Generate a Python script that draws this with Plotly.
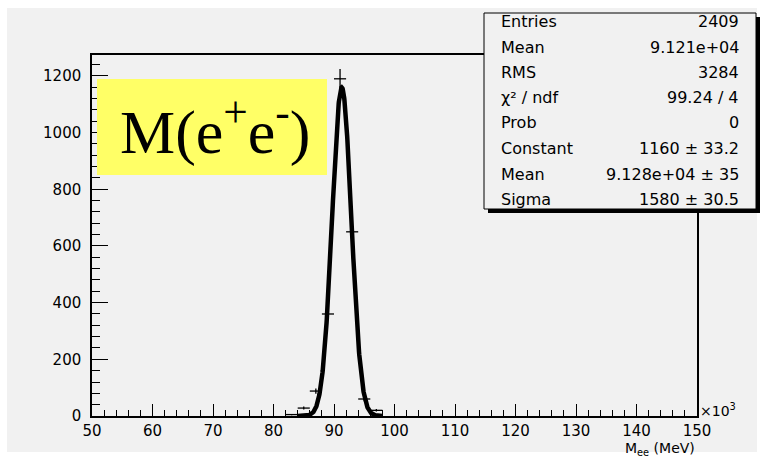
import numpy as np
import plotly.graph_objects as go

# ---- data ----
bin_centers = [83, 85, 87, 89, 91, 93, 95, 97]
counts = [5, 28, 88, 360, 1190, 650, 60, 20]
bin_half_width = [1, 1, 1, 1, 1, 1, 1, 1]

fit_constant = 1160.0
fit_mean = 91.28
fit_sigma = 1.58
fit_range = [84.0, 98.0]

stat_labels = ["Entries", "Mean", "RMS", "χ² / ndf", "Prob", "Constant", "Mean", "Sigma"]
stat_values = ["2409", "9.121e+04", "3284", "99.24 / 4", "0", "1160 ± 33.2", "9.128e+04 ± 35", "1580 ± 30.5"]

x_ticks = [50, 60, 70, 80, 90, 100, 110, 120, 130, 140, 150]
y_ticks = [0, 200, 400, 600, 800, 1000, 1200]

# ---- geometry helpers (pixel -> paper) ----
W, H = 764, 459
L, R, T, B = 92, 697, 55, 416
def px(x):
    return (x - L) / (R - L)
def py(y):
    return (B - y) / (B - T)

GRAY = "#f1f1f1"
FONT = "DejaVu Sans"

fig = go.Figure()

# fit curve
xf = np.linspace(fit_range[0], fit_range[1], 400)
yf = fit_constant * np.exp(-0.5 * ((xf - fit_mean) / fit_sigma) ** 2)
fig.add_trace(go.Scatter(x=xf, y=yf, mode="lines",
                         line=dict(color="black", width=4.5), hoverinfo="skip"))

# histogram points with errors
fig.add_trace(go.Scatter(
    x=bin_centers, y=counts, mode="markers",
    marker=dict(size=1, color="black"),
    error_x=dict(type="data", array=bin_half_width, color="black", thickness=1.3, width=0),
    error_y=dict(type="data", array=list(np.sqrt(counts)), color="black", thickness=1.3, width=0),
))

shapes = []
# gray canvas
shapes.append(dict(type="rect", xref="paper", yref="paper", layer="below",
                   x0=px(7), x1=px(757), y0=py(452), y1=py(8),
                   fillcolor=GRAY, line=dict(width=0)))
# stats box shadow and box
shapes.append(dict(type="rect", xref="paper", yref="paper",
                   x0=px(488), x1=px(760), y0=py(213), y1=py(17),
                   fillcolor="black", line=dict(width=0)))
shapes.append(dict(type="rect", xref="paper", yref="paper",
                   x0=px(484), x1=px(756), y0=py(209), y1=py(13),
                   fillcolor=GRAY, line=dict(color="black", width=1)))
# yellow label box
shapes.append(dict(type="rect", xref="paper", yref="paper",
                   x0=px(97), x1=px(327), y0=py(175), y1=py(79),
                   fillcolor="#ffff66", line=dict(width=0)))

annotations = []
row_y = [22, 47, 72, 97, 123, 148, 174, 199]
for lab, val, yy in zip(stat_labels, stat_values, row_y):
    annotations.append(dict(text=lab, xref="paper", yref="paper", x=px(499), y=py(yy),
                            xanchor="left", yanchor="middle", showarrow=False,
                            font=dict(family=FONT, size=16, color="black")))
    annotations.append(dict(text=val, xref="paper", yref="paper", x=px(741), y=py(yy),
                            xanchor="right", yanchor="middle", showarrow=False,
                            font=dict(family=FONT, size=16, color="black")))

annotations.append(dict(text="M(e<sup>+</sup>e<sup>-</sup>)", xref="paper", yref="paper",
                        x=px(215), y=py(128), xanchor="center", yanchor="middle",
                        showarrow=False,
                        font=dict(family="Liberation Serif", size=62, color="black")))
annotations.append(dict(text="×10<sup>3</sup>", xref="paper", yref="paper",
                        x=px(698), y=py(410), xanchor="left", yanchor="middle",
                        showarrow=False, font=dict(family=FONT, size=14, color="black")))
annotations.append(dict(text="M<sub>ee</sub> (MeV)", xref="paper", yref="paper",
                        x=px(697), y=py(449), xanchor="right", yanchor="middle",
                        showarrow=False, font=dict(family=FONT, size=14, color="black")))

fig.update_layout(
    width=W, height=H,
    margin=dict(l=L, r=W - R, t=T, b=H - B),
    paper_bgcolor="white", plot_bgcolor=GRAY,
    showlegend=False,
    shapes=shapes, annotations=annotations,
    xaxis=dict(range=[50, 150], tickvals=x_ticks, ticktext=[str(v) for v in x_ticks],
               ticks="inside", ticklen=12, tickwidth=1, tickcolor="black",
               minor=dict(dtick=2, ticks="inside", ticklen=6, tickcolor="black"),
               showline=True, linecolor="black", linewidth=1.5, mirror=True,
               showgrid=False, zeroline=False,
               tickfont=dict(family=FONT, size=15, color="black")),
    yaxis=dict(range=[0, 1274], tickvals=y_ticks, ticktext=[str(v) for v in y_ticks],
               ticks="inside", ticklen=16, tickwidth=1, tickcolor="black",
               minor=dict(dtick=40, ticks="inside", ticklen=8, tickcolor="black"),
               showline=True, linecolor="black", linewidth=1.5, mirror=True,
               showgrid=False, zeroline=False, ticklabelstandoff=6,
               tickfont=dict(family=FONT, size=15, color="black")),
)

fig.write_html("out.html")
